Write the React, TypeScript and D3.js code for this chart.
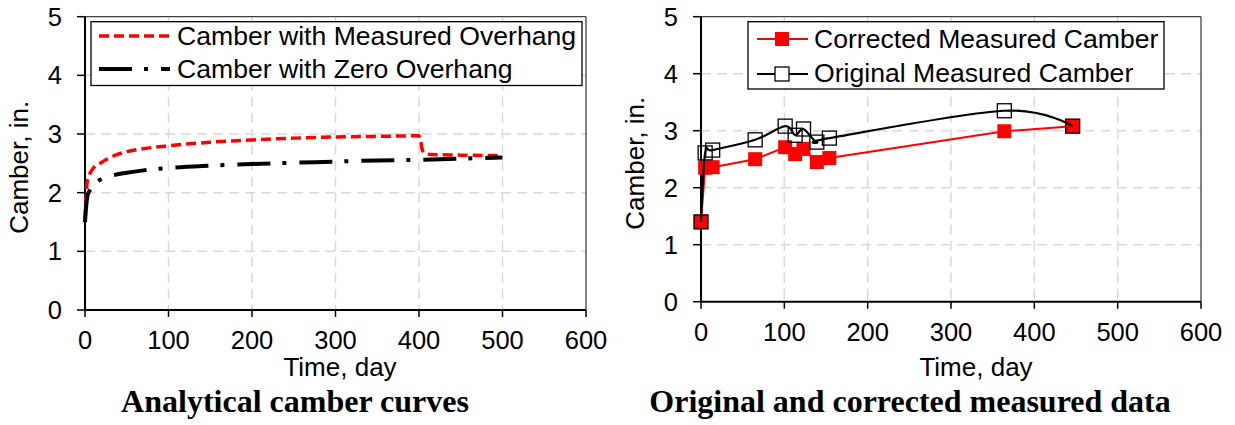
import React from "react";
import * as d3 from "d3";

// Axis ticks shared by both panels
const xTicks = [0, 100, 200, 300, 400, 500, 600];
const yTicks = [0, 1, 2, 3, 4, 5];

// Analytical camber, measured overhang (days, inches)
const overhangDays = [0, 1, 2, 3, 5, 8, 12, 18, 25, 35, 50, 70, 100, 150, 200, 250, 300, 350, 400, 402, 404, 407, 415, 450, 500];
const overhangCamber = [1.55, 1.85, 2.1, 2.22, 2.3, 2.38, 2.45, 2.5, 2.56, 2.63, 2.7, 2.75, 2.8, 2.86, 2.9, 2.93, 2.95, 2.96, 2.97, 2.88, 2.73, 2.67, 2.65, 2.64, 2.63];

// Analytical camber, zero overhang
const zeroDays = [0, 1, 2, 3, 5, 8, 12, 18, 25, 35, 50, 70, 100, 150, 200, 250, 300, 350, 400, 450, 500];
const zeroCamber = [1.5, 1.7, 1.85, 1.95, 2.02, 2.1, 2.16, 2.22, 2.26, 2.3, 2.34, 2.38, 2.42, 2.46, 2.49, 2.51, 2.53, 2.55, 2.56, 2.58, 2.6];

// Measured camber
const measuredDays = [0, 5, 14, 65, 101, 113, 123, 139, 154, 364, 446];
const correctedCamber = [1.4, 2.35, 2.36, 2.5, 2.71, 2.59, 2.68, 2.45, 2.52, 2.99, 3.08];
const originalCamber = [1.4, 2.61, 2.66, 2.84, 3.08, 2.92, 3.03, 2.8, 2.87, 3.35, 3.08];

const SANS = "'Liberation Sans', Arial, sans-serif";
const SERIF = "'Liberation Serif', 'Times New Roman', serif";
const TICK_SIZE = 25.5;
const LABEL_SIZE = 26.6;

type Scale = d3.ScaleLinear<number, number>;

function Frame({ x, y, axisTitleX, titleX, title }: { x: Scale; y: Scale; axisTitleX: number; titleX: number; title: string }) {
  const [x0, x1] = x.range();
  const yb = y(0);
  const yt = y(5);
  return (
    <g>
      {xTicks.slice(1, -1).map((t) => (
        <line key={"gx" + t} x1={x(t)} x2={x(t)} y1={yt} y2={yb} stroke="#d9d9d9" strokeWidth={1.5} strokeDasharray="10 6" />
      ))}
      {yTicks.slice(1, -1).map((t) => (
        <line key={"gy" + t} x1={x0} x2={x1} y1={y(t)} y2={y(t)} stroke="#d9d9d9" strokeWidth={1.5} strokeDasharray="10 6" />
      ))}
      <line x1={x0} x2={x1} y1={yt} y2={yt} stroke="#404040" strokeWidth={1.3} />
      <line x1={x1} x2={x1} y1={yt} y2={yb} stroke="#404040" strokeWidth={1.3} />
      <line x1={x0} x2={x0} y1={yt} y2={yb} stroke="#000" strokeWidth={2} />
      <line x1={x0} x2={x1} y1={yb} y2={yb} stroke="#000" strokeWidth={2} />
      {yTicks.map((t) => (
        <g key={"ty" + t}>
          <line x1={x0 - 8} x2={x0} y1={y(t)} y2={y(t)} stroke="#000" strokeWidth={1.5} />
          <text x={x0 - 23} y={y(t)} dy="0.35em" textAnchor="end" fontFamily={SANS} fontSize={TICK_SIZE}>{t}</text>
        </g>
      ))}
      {xTicks.map((t) => (
        <g key={"tx" + t}>
          <line x1={x(t)} x2={x(t)} y1={yb} y2={yb + 7} stroke="#000" strokeWidth={1.5} />
          <text x={x(t)} y={yb + 39} textAnchor="middle" fontFamily={SANS} fontSize={TICK_SIZE}>{t}</text>
        </g>
      ))}
      <text x={axisTitleX} y={376} textAnchor="middle" fontFamily={SANS} fontSize={26}>Time, day</text>
      <text
        transform={`translate(${x0 - 57},${(yt + yb) / 2 + 4}) rotate(-90)`}
        textAnchor="middle"
        fontFamily={SANS}
        fontSize={26}
      >
        Camber, in.
      </text>
      <text x={titleX} y={412} textAnchor="middle" fontFamily={SERIF} fontWeight="bold" fontSize={32}>{title}</text>
    </g>
  );
}

export default function App() {
  const xL = d3.scaleLinear().domain([0, 600]).range([85, 586]);
  const yL = d3.scaleLinear().domain([0, 5]).range([310, 16.7]);
  const xR = d3.scaleLinear().domain([0, 600]).range([701, 1201]);
  const yR = d3.scaleLinear().domain([0, 5]).range([301.7, 16.7]);

  const lineL = d3
    .line<[number, number]>()
    .x((d) => xL(d[0]))
    .y((d) => yL(d[1]))
    .curve(d3.curveMonotoneX);

  const lineRStraight = d3
    .line<[number, number]>()
    .x((d) => xR(d[0]))
    .y((d) => yR(d[1]));

  const lineRSmooth = d3
    .line<[number, number]>()
    .x((d) => xR(d[0]))
    .y((d) => yR(d[1]))
    .curve(d3.curveCardinal.tension(0));

  const overhang = overhangDays.map((d, i) => [d, overhangCamber[i]] as [number, number]);
  const zero = zeroDays.map((d, i) => [d, zeroCamber[i]] as [number, number]);
  const corrected = measuredDays.map((d, i) => [d, correctedCamber[i]] as [number, number]);
  const original = measuredDays.map((d, i) => [d, originalCamber[i]] as [number, number]);

  const sq = 14;

  return (
    <svg width={1235} height={425} style={{ position: "absolute", left: 0, top: 0, background: "#fff" }}>
      {/* Left panel: analytical curves */}
      <Frame x={xL} y={yL} axisTitleX={340} titleX={295} title="Analytical camber curves" />
      <path d={lineL(overhang) || ""} fill="none" stroke="#ff0000" strokeWidth={3.5} strokeDasharray="10 5" />
      <path d={lineL(zero) || ""} fill="none" stroke="#000" strokeWidth={4} strokeDasharray="33 12 4 13" />
      <rect x={91} y={21.7} width={491} height={63.8} fill="#fff" stroke="#000" strokeWidth={1.3} />
      <line x1={99} x2={170} y1={36} y2={36} stroke="#ff0000" strokeWidth={3.5} strokeDasharray="10 5" />
      <line x1={99} x2={170} y1={69} y2={69} stroke="#000" strokeWidth={4} strokeDasharray="33 12 4 13" />
      <text x={177} y={45} fontFamily={SANS} fontSize={LABEL_SIZE}>Camber with Measured Overhang</text>
      <text x={177} y={78} fontFamily={SANS} fontSize={LABEL_SIZE}>Camber with Zero Overhang</text>

      {/* Right panel: measured data */}
      <Frame x={xR} y={yR} axisTitleX={976} titleX={910} title="Original and corrected measured data" />
      <path d={lineRStraight(corrected) || ""} fill="none" stroke="#ff0000" strokeWidth={2} />
      {corrected.map((d, i) => (
        <rect key={"c" + i} x={xR(d[0]) - sq / 2} y={yR(d[1]) - sq / 2} width={sq} height={sq} fill="#ff0000" />
      ))}
      <path d={lineRSmooth(original) || ""} fill="none" stroke="#000" strokeWidth={2.2} />
      {original.map((d, i) => (
        <rect key={"o" + i} x={xR(d[0]) - sq / 2} y={yR(d[1]) - sq / 2} width={sq} height={sq} fill="none" stroke="#000" strokeWidth={1.3} />
      ))}
      <rect x={748} y={21.7} width={416} height={67.3} fill="#fff" stroke="#000" strokeWidth={1.3} />
      <line x1={757} x2={808} y1={39} y2={39} stroke="#ff0000" strokeWidth={2} />
      <rect x={782 - sq / 2} y={39 - sq / 2} width={sq} height={sq} fill="#ff0000" />
      <line x1={757} x2={808} y1={74} y2={74} stroke="#000" strokeWidth={2.2} />
      <rect x={782 - sq / 2} y={74 - sq / 2} width={sq} height={sq} fill="#fff" stroke="#000" strokeWidth={1.3} />
      <text x={814} y={48} fontFamily={SANS} fontSize={LABEL_SIZE}>Corrected Measured Camber</text>
      <text x={814} y={82} fontFamily={SANS} fontSize={LABEL_SIZE}>Original Measured Camber</text>
    </svg>
  );
}
